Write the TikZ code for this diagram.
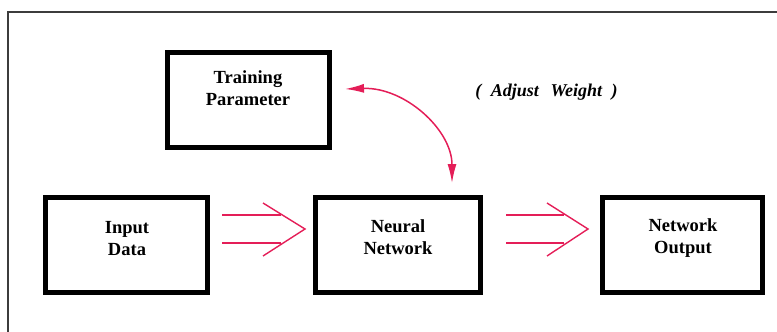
\documentclass[tikz,border=0pt]{standalone}
\usepackage{fontspec}
\setmainfont{Liberation Serif}
\usetikzlibrary{arrows.meta}
\definecolor{pk}{RGB}{228,30,88}
\definecolor{frame}{RGB}{60,60,60}
\tikzset{
  box/.style={draw=black, line width=5pt, rectangle, inner sep=0pt, minimum height=95pt},
  lbl/.style={align=center, font=\bfseries\fontsize{18.5}{22}\selectfont, inner sep=0pt},
  dbl/.style={draw=pk, line width=1.4pt},
  curvearrow/.style={draw=pk, line width=1.5pt, {Latex[length=19pt,width=9pt]}-{Latex[length=19pt,width=9pt]}}
}
\begin{document}
\begin{tikzpicture}[x=1pt,y=-1pt]
\useasboundingbox (0,0) rectangle (777,332);
% outer frame (top and left visible)
\draw[frame, line width=1.5pt] (8,340) -- (8,12) -- (790,12);
% boxes
\node[box, minimum width=162pt] (tp) at (248.5,100) {};
\node[box, minimum width=162pt] (in) at (126.5,245) {};
\node[box, minimum width=165pt] (nn) at (398,245) {};
\node[box, minimum width=160pt] (no) at (682.5,245) {};
% texts
\node[lbl] (tpt) at (248,88.5) {Training\\Parameter};
\node[lbl] (int) at (127,238.5) {Input\\Data};
\node[lbl] (nnt) at (398,237.5) {Neural\\Network};
\node[lbl] (not) at (683,238.5) {Network\\Output};
\node[font=\bfseries\itshape\fontsize{18}{20}\selectfont, inner sep=0pt] (aw) at (546.5,92) {(\; Adjust\hspace{0.65em}Weight \;)};
% double arrow 1
\coordinate (t1) at (305,229);
\coordinate (s1) at (222,229);
\draw[dbl] ([yshift=14pt]s1) -- ++(59,0);
\draw[dbl] ([yshift=-14pt]s1) -- ++(59,0);
\draw[dbl] ([xshift=-42pt,yshift=26pt]t1) -- (t1) -- ([xshift=-42pt,yshift=-27pt]t1);
% double arrow 2
\coordinate (t2) at (588,229);
\coordinate (s2) at (506,229);
\draw[dbl] ([yshift=14pt]s2) -- ++(58,0);
\draw[dbl] ([yshift=-14pt]s2) -- ++(58,0);
\draw[dbl] ([xshift=-41pt,yshift=26pt]t2) -- (t2) -- ([xshift=-41pt,yshift=-27pt]t2);
% curved adjust arrow
\coordinate (c1) at (345,89);
\coordinate (c2) at (452,183);
\draw[curvearrow] (c1) .. controls (405,87) and (452,130) .. (c2);
\end{tikzpicture}
\end{document}
